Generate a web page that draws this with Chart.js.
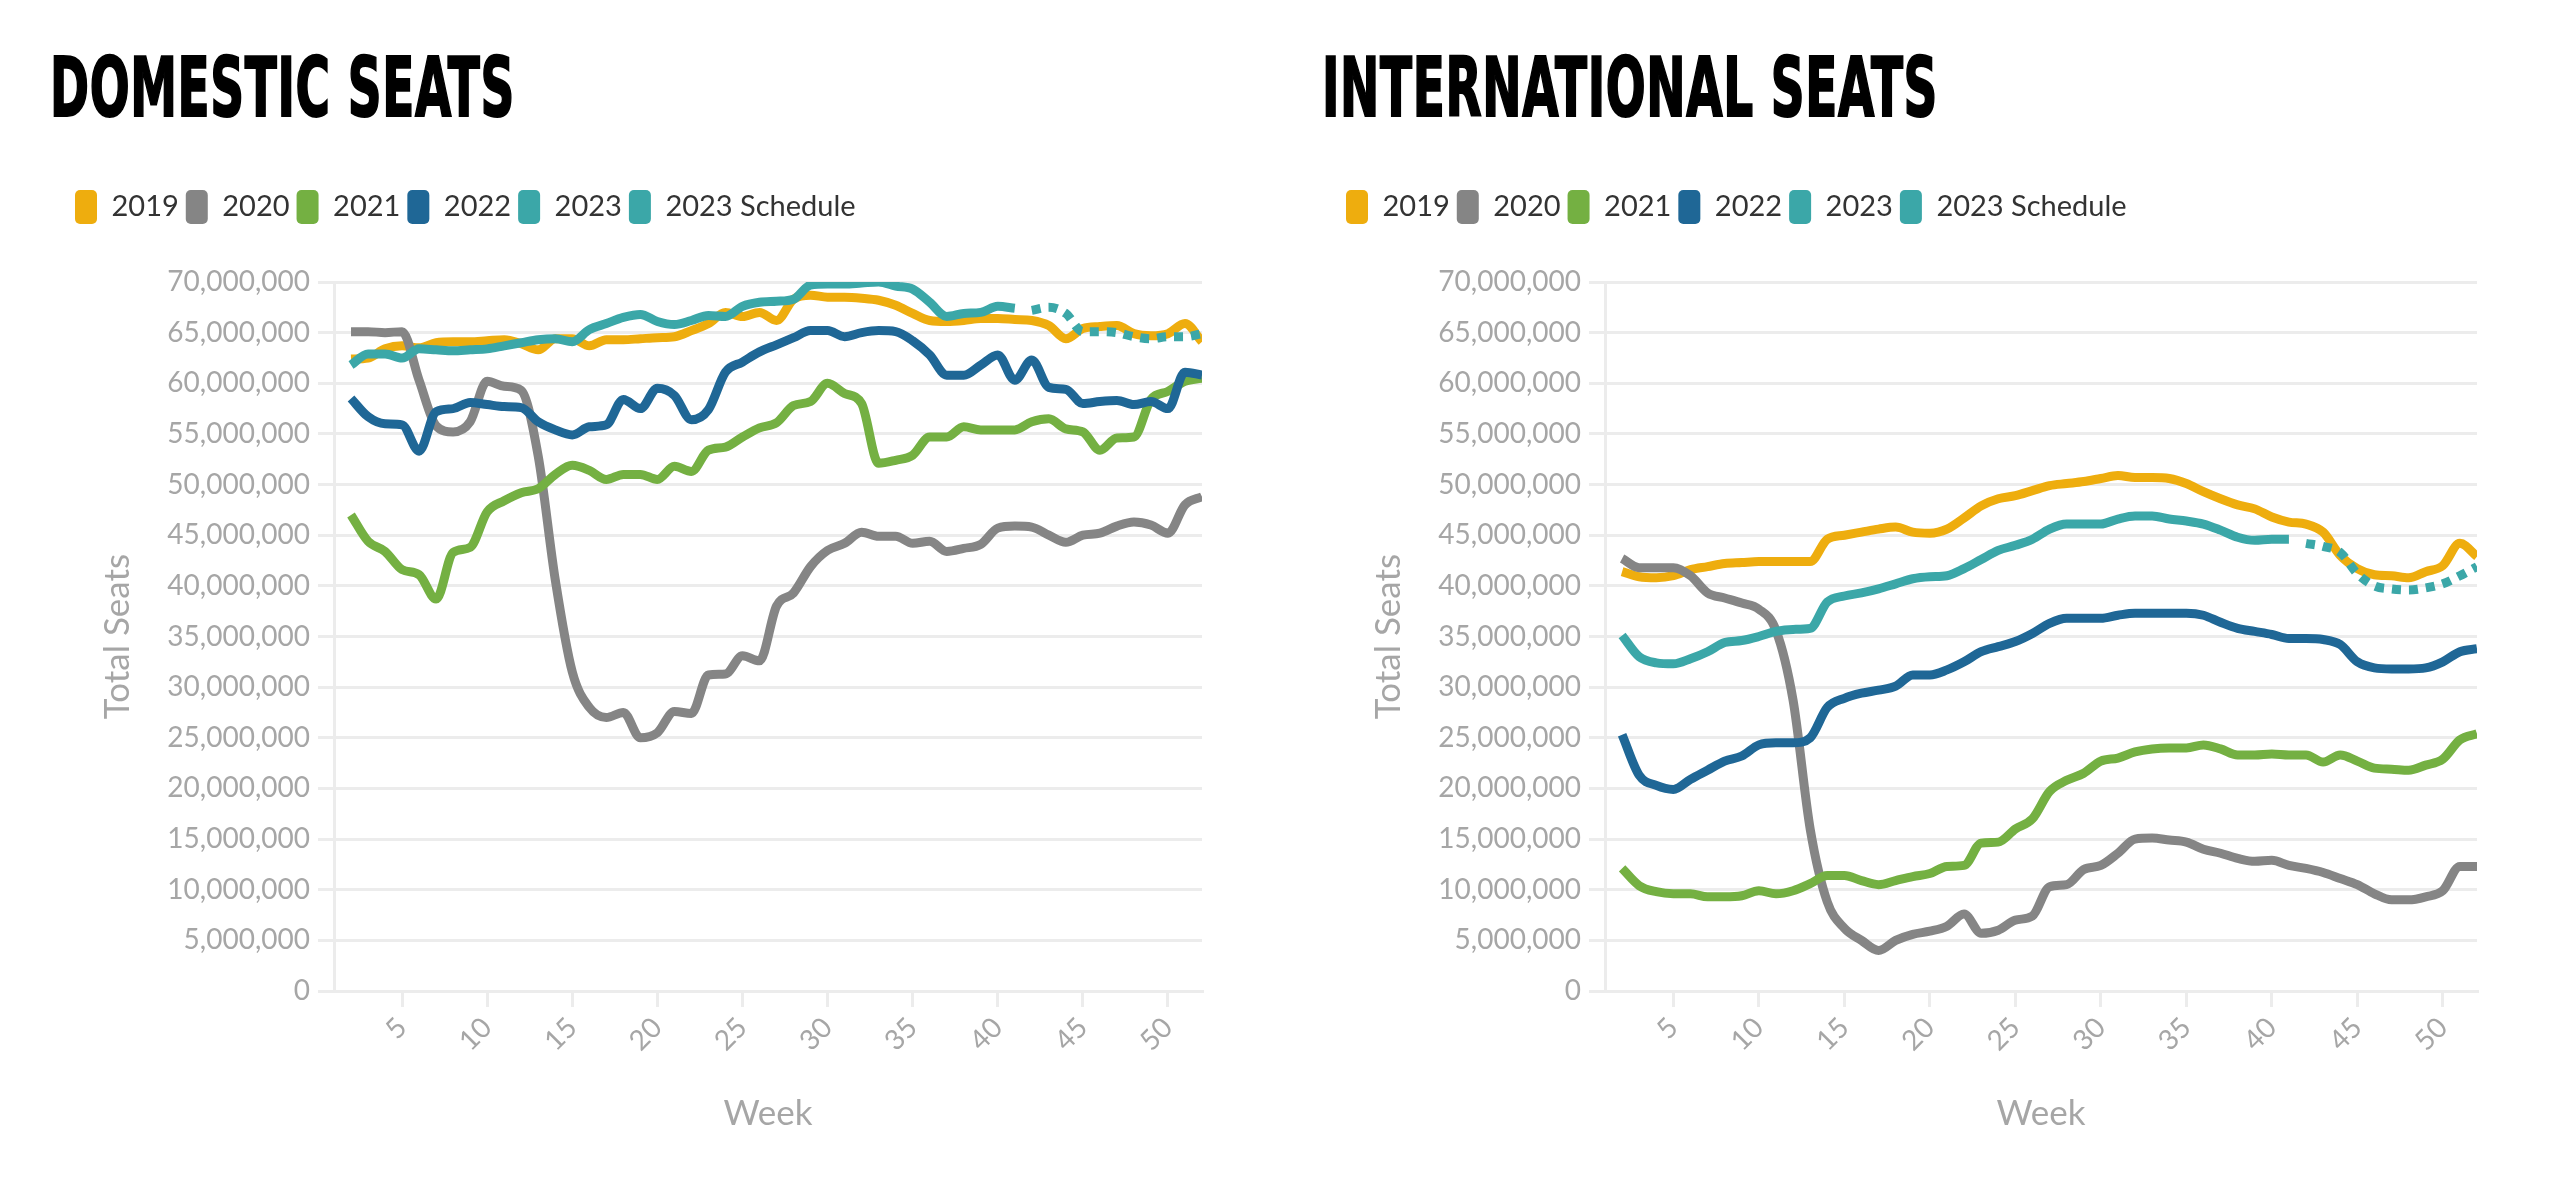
<!DOCTYPE html>
<html>
<head>
<meta charset="utf-8">
<script src="https://cdn.jsdelivr.net/npm/chart.js@4.4.1/dist/chart.umd.min.js"></script>
<style>
  html, body { margin: 0; padding: 0; background: #ffffff; width: 2554px; height: 1180px; overflow: hidden; }
  .ttl { position: absolute; top: 47px; font-family: "DejaVu Sans Condensed", "DejaVu Sans", sans-serif; font-weight: bold;
         font-size: 82px; line-height: 82px; color: #000; white-space: nowrap; transform-origin: 0 0; letter-spacing: 1px;
         -webkit-text-stroke: 2px #000; }
  canvas { position: absolute; top: 0; }
</style>
</head>
<body>
<div class="ttl" id="t1" style="left:50px" data-w="465">DOMESTIC SEATS</div>
<div class="ttl" id="t2" style="left:1322px" data-w="616">INTERNATIONAL SEATS</div>
<canvas id="c1" width="1277" height="1180" style="left:0px"></canvas>
<canvas id="c2" width="1283" height="1180" style="left:1271px"></canvas>
<script>
// ---------- categories / tick labels ----------
const weeks = [1,2,3,4,5,6,7,8,9,10,11,12,13,14,15,16,17,18,19,20,21,22,23,24,25,26,
               27,28,29,30,31,32,33,34,35,36,37,38,39,40,41,42,43,44,45,46,47,48,49,50,51,52];
const xTickWeeks = [5,10,15,20,25,30,35,40,45,50];
const yTickValues = [0,5e6,10e6,15e6,20e6,25e6,30e6,35e6,40e6,45e6,50e6,55e6,60e6,65e6,70e6];
const seriesNames = ['2019','2020','2021','2022','2023','2023 Schedule'];

// ---------- Domestic seats (week 1 .. 52) ----------
const dom2019 = [null,62.4e6,62.5e6,63.4e6,63.7e6,63.5e6,64.0e6,64.1e6,64.1e6,64.2e6,64.3e6,
  63.9e6,63.3e6,64.4e6,64.4e6,63.7e6,64.3e6,64.3e6,64.4e6,64.5e6,64.6e6,
  65.2e6,65.9e6,67.0e6,66.6e6,67.0e6,66.2e6,68.3e6,68.7e6,68.5e6,68.5e6,
  68.4e6,68.2e6,67.7e6,66.9e6,66.2e6,66.1e6,66.2e6,66.4e6,66.4e6,66.3e6,
  66.2e6,65.7e6,64.4e6,65.4e6,65.6e6,65.7e6,64.9e6,64.7e6,64.9e6,65.9e6,64.1e6];
const dom2020 = [null,65.1e6,65.1e6,65.0e6,65.1e6,60.3e6,55.8e6,55.2e6,56.2e6,60.2e6,59.7e6,
  59.3e6,52.8e6,40.6e6,31.5e6,28.0e6,27.0e6,27.5e6,25.0e6,25.5e6,27.6e6,
  27.4e6,31.2e6,31.3e6,33.1e6,32.6e6,38.0e6,39.3e6,41.9e6,43.5e6,44.2e6,
  45.3e6,44.9e6,44.9e6,44.2e6,44.4e6,43.4e6,43.7e6,44.1e6,45.7e6,45.9e6,
  45.8e6,45.0e6,44.3e6,45.0e6,45.2e6,45.9e6,46.3e6,46.0e6,45.2e6,48.0e6,48.8e6];
const dom2021 = [null,47.0e6,44.4e6,43.4e6,41.6e6,41.1e6,38.7e6,43.3e6,43.8e6,47.3e6,48.4e6,
  49.2e6,49.6e6,51.0e6,51.9e6,51.4e6,50.5e6,51.0e6,51.0e6,50.5e6,51.8e6,
  51.3e6,53.4e6,53.7e6,54.7e6,55.6e6,56.1e6,57.8e6,58.2e6,60.0e6,59.0e6,
  58.0e6,52.1e6,52.4e6,52.9e6,54.7e6,54.7e6,55.7e6,55.4e6,55.4e6,55.4e6,
  56.2e6,56.5e6,55.5e6,55.2e6,53.4e6,54.6e6,54.7e6,58.4e6,59.2e6,60.2e6,60.5e6];
const dom2022 = [null,58.5e6,56.7e6,56.0e6,55.9e6,53.3e6,57.2e6,57.5e6,58.1e6,57.9e6,57.7e6,
  57.6e6,56.2e6,55.4e6,54.9e6,55.7e6,55.9e6,58.4e6,57.5e6,59.5e6,58.8e6,
  56.4e6,57.4e6,61.1e6,62.1e6,63.1e6,63.8e6,64.5e6,65.2e6,65.2e6,64.6e6,
  65.0e6,65.2e6,65.1e6,64.2e6,62.8e6,60.8e6,60.8e6,61.8e6,62.8e6,60.3e6,
  62.3e6,59.6e6,59.4e6,58.0e6,58.2e6,58.3e6,57.9e6,58.2e6,57.5e6,61.1e6,60.8e6];
const dom2023 = [null,61.8e6,62.9e6,62.9e6,62.5e6,63.4e6,63.3e6,63.2e6,63.3e6,63.4e6,63.7e6,
  64.0e6,64.3e6,64.4e6,64.1e6,65.3e6,65.9e6,66.5e6,66.8e6,66.1e6,65.8e6,
  66.2e6,66.7e6,66.6e6,67.6e6,68.0e6,68.1e6,68.3e6,69.7e6,69.8e6,69.8e6,
  69.9e6,70.0e6,69.6e6,69.3e6,68.0e6,66.6e6,66.9e6,67.0e6,67.6e6,67.4e6,
  null,null,null,null,null,null,null,null,null,null,null];
const dom2023Sched = [null,null,null,null,null,null,null,null,null,null,null,
  null,null,null,null,null,null,null,null,null,null,
  null,null,null,null,null,null,null,null,null,null,
  null,null,null,null,null,null,null,null,null,null,
  67.2e6,67.5e6,66.9e6,65.1e6,65.1e6,65.0e6,64.6e6,64.4e6,64.6e6,64.6e6,64.9e6];

// ---------- International seats (week 1 .. 52) ----------
const int2019 = [null,41.4e6,40.9e6,40.8e6,41.0e6,41.6e6,41.9e6,42.2e6,42.3e6,42.4e6,42.4e6,
  42.4e6,42.4e6,44.6e6,45.0e6,45.3e6,45.6e6,45.8e6,45.3e6,45.2e6,45.6e6,
  46.7e6,47.9e6,48.6e6,48.9e6,49.4e6,49.9e6,50.1e6,50.3e6,50.6e6,50.9e6,
  50.7e6,50.7e6,50.6e6,50.1e6,49.3e6,48.6e6,48.0e6,47.6e6,46.8e6,46.3e6,
  46.1e6,45.3e6,43.0e6,41.7e6,41.1e6,41.0e6,40.8e6,41.4e6,42.0e6,44.2e6,42.9e6];
const int2020 = [null,42.7e6,41.8e6,41.8e6,41.8e6,41.0e6,39.3e6,38.8e6,38.3e6,37.7e6,35.6e6,
  28.7e6,16.0e6,8.8e6,6.2e6,5.0e6,4.0e6,5.0e6,5.6e6,5.9e6,6.4e6,
  7.6e6,5.7e6,6.0e6,7.0e6,7.4e6,10.3e6,10.5e6,12.0e6,12.4e6,13.6e6,
  15.0e6,15.1e6,14.9e6,14.7e6,14.0e6,13.6e6,13.1e6,12.8e6,12.9e6,12.4e6,
  12.1e6,11.7e6,11.1e6,10.5e6,9.6e6,9.0e6,9.0e6,9.3e6,9.9e6,12.3e6,12.3e6];
const int2021 = [null,12.1e6,10.4e6,9.8e6,9.6e6,9.6e6,9.3e6,9.3e6,9.4e6,9.9e6,9.6e6,
  9.9e6,10.6e6,11.4e6,11.4e6,10.9e6,10.5e6,10.9e6,11.3e6,11.6e6,12.3e6,
  12.4e6,14.6e6,14.7e6,16.0e6,17.0e6,19.7e6,20.8e6,21.5e6,22.7e6,23.0e6,
  23.6e6,23.9e6,24.0e6,24.0e6,24.3e6,23.9e6,23.3e6,23.3e6,23.4e6,23.3e6,
  23.3e6,22.6e6,23.3e6,22.7e6,22.0e6,21.9e6,21.8e6,22.3e6,22.9e6,24.8e6,25.4e6];
const int2022 = [null,25.3e6,21.3e6,20.3e6,19.9e6,20.9e6,21.8e6,22.7e6,23.2e6,24.3e6,24.5e6,
  24.5e6,25.0e6,28.0e6,28.9e6,29.4e6,29.7e6,30.1e6,31.2e6,31.2e6,31.7e6,
  32.5e6,33.5e6,34.0e6,34.5e6,35.3e6,36.3e6,36.8e6,36.8e6,36.8e6,37.1e6,
  37.3e6,37.3e6,37.3e6,37.3e6,37.1e6,36.4e6,35.8e6,35.5e6,35.2e6,34.8e6,
  34.8e6,34.7e6,34.2e6,32.5e6,31.9e6,31.8e6,31.8e6,31.9e6,32.5e6,33.5e6,33.8e6];
const int2023 = [null,35.1e6,33.0e6,32.4e6,32.3e6,32.8e6,33.5e6,34.4e6,34.6e6,35.0e6,35.5e6,
  35.7e6,35.8e6,38.4e6,39.0e6,39.3e6,39.7e6,40.2e6,40.7e6,40.9e6,41.0e6,
  41.7e6,42.6e6,43.5e6,44.0e6,44.6e6,45.6e6,46.1e6,46.1e6,46.1e6,46.6e6,
  46.9e6,46.9e6,46.6e6,46.4e6,46.1e6,45.5e6,44.8e6,44.5e6,44.6e6,44.6e6,
  null,null,null,null,null,null,null,null,null,null,null];
const int2023Sched = [null,null,null,null,null,null,null,null,null,null,null,
  null,null,null,null,null,null,null,null,null,null,
  null,null,null,null,null,null,null,null,null,null,
  null,null,null,null,null,null,null,null,null,null,
  44.2e6,43.9e6,43.3e6,41.2e6,40.0e6,39.7e6,39.6e6,39.8e6,40.2e6,41.0e6,41.9e6];

// ---------- styling ----------
const seriesColors = ['#EEAD0E', '#858585', '#74B042', '#1F6796', '#3BA7A8', '#3BA7A8'];
const GRID = '#ececec';
const AXIS_TXT = '#a6a6a6';

// stretch the condensed titles to their measured width
document.querySelectorAll('.ttl').forEach(el => {
  const w = el.getBoundingClientRect().width;
  el.style.transform = 'scaleX(' + (parseFloat(el.dataset.w) / w) + ')';
});

const LEGEND_GAP = 48;
const legendGap = {
  id: 'legendGap',
  beforeInit(chart) {
    const lg = chart.legend;
    if (!lg) return;
    const f = lg.fit;
    lg.fit = function () { f.call(this); this.height += LEGEND_GAP; };
  }
};

function makeChart(id, seriesData, padRight) {
  const datasets = seriesData.map((data, i) => ({
    label: seriesNames[i],
    data: data,
    borderColor: seriesColors[i],
    backgroundColor: seriesColors[i],
    borderWidth: 9,
    pointRadius: 0,
    pointHoverRadius: 0,
    fill: false,
    cubicInterpolationMode: 'monotone',
    borderDash: i === 5 ? [9, 8] : [],
    borderCapStyle: 'butt',
    borderJoinStyle: 'round',
    order: seriesData.length - i
  }));
  return new Chart(document.getElementById(id), {
    type: 'line',
    data: { labels: weeks, datasets },
    options: {
      responsive: false,
      animation: false,
      devicePixelRatio: 1,
      layout: { padding: { top: 183, left: 68, right: padRight, bottom: 0 } },
      plugins: {
        tooltip: { enabled: false },
        legend: {
          position: 'top',
          align: 'start',
          labels: {
            boxWidth: 22,
            boxHeight: 34,
            padding: 7,
            useBorderRadius: true,
            borderRadius: 5,
            color: '#333333',
            font: { family: 'Lato', size: 29 },
            sort: (a, b) => a.datasetIndex - b.datasetIndex,
            generateLabels: chart => Chart.defaults.plugins.legend.labels.generateLabels(chart)
              .map(l => Object.assign(l, { lineWidth: 0, lineDash: [] }))
          }
        }
      },
      scales: {
        x: {
          type: 'linear',
          min: 1,
          max: 52,
          afterBuildTicks: s => { s.ticks = xTickWeeks.map(v => ({ value: v })); },
          afterFit: s => { s.height = 189; },
          ticks: {
            minRotation: 45, maxRotation: 45, autoSkip: false,
            color: AXIS_TXT, font: { family: 'Lato', size: 28 }, padding: 4,
            callback: v => String(v)
          },
          grid: { drawOnChartArea: false, color: GRID, lineWidth: 3, tickLength: 16 },
          border: { display: true, color: GRID, width: 3 },
          title: { display: true, text: 'Week', color: AXIS_TXT, font: { family: 'Lato', size: 35 },
                   padding: { top: 0, bottom: 45 } }
        },
        y: {
          min: 0,
          max: 70e6,
          afterBuildTicks: s => { s.ticks = yTickValues.map(v => ({ value: v })); },
          afterFit: s => { s.width = 266; },
          ticks: {
            color: AXIS_TXT, font: { family: 'Lato', size: 28 }, padding: 8,
            callback: v => Number(v).toLocaleString('en-US')
          },
          grid: { color: GRID, lineWidth: 3, tickLength: 16 },
          border: { display: true, color: GRID, width: 3 },
          title: { display: true, text: 'Total Seats', color: AXIS_TXT, font: { family: 'Lato', size: 35 },
                   padding: { top: 29, bottom: 0 } }
        }
      }
    },
    plugins: [legendGap]
  });
}

makeChart('c1', [dom2019, dom2020, dom2021, dom2022, dom2023, dom2023Sched], 75);
makeChart('c2', [int2019, int2020, int2021, int2022, int2023, int2023Sched], 77);
</script>
</body>
</html>
